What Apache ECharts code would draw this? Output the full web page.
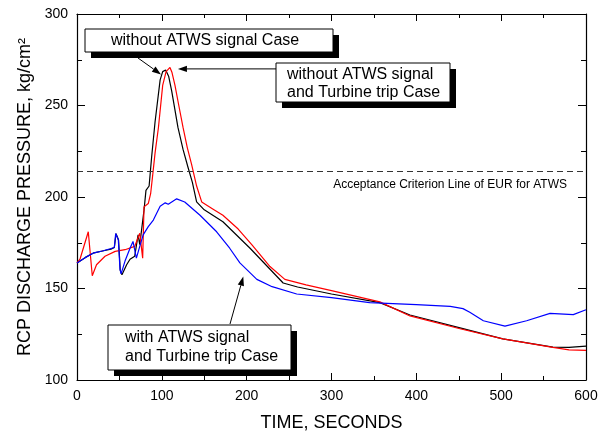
<!DOCTYPE html>
<html>
<head>
<meta charset="utf-8">
<script src="https://cdn.jsdelivr.net/npm/echarts@6/dist/echarts.min.js"></script>
<style>
html,body{margin:0;padding:0;background:#fff;}
#chart{width:605px;height:437px;}
</style>
</head>
<body>
<div id="chart"></div>
<script>
// ---- data ----
var xTicks = [0, 100, 200, 300, 400, 500, 600];
var yTicks = [100, 150, 200, 250, 300];
var acceptanceLimit = 214;

var noSignal = [ // without ATWS signal Case (black)
  [0,164],[10,167],[20,169.5],[30,170.5],[40,171.5],[44,172.4],[46,180],[47.5,181],[49,176.5],[51,160],[53,157.5],
  [58.5,163],[62.5,166],[68,167.6],[72,179.3],[74,174],[79,192.8],[81.3,203.6],[85,206],[88,222],[92,241],[98,264],
  [101,268.5],[104.5,269.4],[108,266],[111.6,258],[119,238],[125,226],[131,216],[136,208],[141,197.3],[150,193],
  [172,186.5],[204,172],[243,153],[260,150.8],[300,147],[357,142.3],[392.5,135.5],[451.5,128.5],[502,122.5],
  [561,118],[580,117.8],[600,118.5]
];
var noSignalTrip = [ // without ATWS signal and Turbine trip Case (red)
  [0,164],[3.5,166],[13.3,181],[18,157],[23,163],[33,167.6],[45,170.3],[56.6,171.2],[68,173],[74,180.2],
  [77.4,166.6],[79,194.6],[84,196.4],[86.8,201.8],[89,211],[92,224],[96,238],[101,261],[105,268.5],[109.6,270.8],[112,268],
  [115.5,261],[120,250],[125,238],[130,227],[135,218],[141,206],[147,197.3],[160,193.5],[172,190],[190,182.5],
  [206,174],[227.5,162],[245,155],[270,152],[300,148.8],[357,142.7],[392.5,135],[451.5,128],[502,122.5],
  [561,117.8],[580,116.5],[600,116.2]
];
var withSignalTrip = [ // with ATWS signal and Turbine trip Case (blue)
  [0,164],[10,167],[20,169.5],[30,170.5],[39,171.7],[44,172.4],[45.6,180],[47.5,181],[48.7,176.6],[50.7,160.5],
  [52,158],[56.6,165],[62.5,172],[66,175.7],[70,166.6],[74,173],[78,179.3],[84,183.8],[90,187.4],
  [98,195],[104,196.8],[107.6,196],[117.5,199],[127,197.3],[145,190],
  [164.6,181],[180,172],[192,164],[212,155],[230,151],[259,147],[300,145],
  [345,142.3],[400,141.2],[440,140.2],[455,139],[463,137],[479,132.4],[504.5,129.4],[530,132.4],[557.6,136.4],
  [585,135.7],[600,138.4]
];

// ---- chart ----
var FONT = '"Liberation Sans", Arial, sans-serif';
var chart = echarts.init(document.getElementById('chart'), null, {renderer:'canvas'});

function xAxisCfg(pos, labels) {
  return {
    type:'value', position:pos, min:xTicks[0], max:xTicks[xTicks.length-1], interval:100,
    axisLine:{show:true, onZero:false, lineStyle:{color:'#000', width:1.2}},
    axisTick:{show:true, inside:true, length:7, lineStyle:{color:'#000'}},
    minorTick:{show:true, splitNumber:2, length:4, lineStyle:{color:'#000'}},
    splitLine:{show:false},
    axisLabel:{show:labels, color:'#000', fontSize:14, fontFamily:FONT, margin:9},
    name: labels ? 'TIME, SECONDS' : '', nameLocation:'middle', nameGap:34,
    nameTextStyle:{color:'#000', fontSize:18, fontFamily:FONT}
  };
}
function yAxisCfg(pos, labels) {
  return {
    type:'value', position:pos, min:yTicks[0], max:yTicks[yTicks.length-1], interval:50,
    axisLine:{show:true, onZero:false, lineStyle:{color:'#000', width:1.2}},
    axisTick:{show:true, inside:true, length:8, lineStyle:{color:'#000'}},
    minorTick:{show:true, splitNumber:2, length:5, lineStyle:{color:'#000'}},
    splitLine:{show:false},
    axisLabel:{show:labels, color:'#000', fontSize:14, fontFamily:FONT, margin:9},
    name: labels ? 'RCP DISCHARGE PRESSURE, kg/cm²' : '', nameLocation:'middle', nameGap:42,
    nameTextStyle:{color:'#000', fontSize:18, fontFamily:FONT}
  };
}

function lineSeries(name, data, color) {
  return {
    name:name, type:'line', data:data, xAxisIndex:0, yAxisIndex:0,
    showSymbol:false, symbol:'none', smooth:false,
    lineStyle:{color:color, width:1.2}, silent:true
  };
}

var series = [
  lineSeries('without ATWS signal Case', noSignal, '#000000'),
  lineSeries('without ATWS signal and Turbine trip Case', noSignalTrip, '#ff0000'),
  lineSeries('with ATWS signal and Turbine trip Case', withSignalTrip, '#0000ff')
];
series[0].markLine = {
  silent:true, symbol:['none','none'],
  lineStyle:{color:'#333', type:[6,4], width:1},
  label:{show:false},
  data:[{yAxis:acceptanceLimit}]
};

chart.setOption({
  animation:false,
  backgroundColor:'#fff',
  grid:{left:77, right:19, top:14, bottom:50, containLabel:false},
  xAxis:[xAxisCfg('bottom', true), xAxisCfg('top', false)],
  yAxis:[yAxisCfg('left', true), yAxisCfg('right', false)],
  series:series
});

// ---- annotations ----
function box(x, y, w, h, lines, tx, ty, lh) {
  var els = [
    {type:'rect', shape:{x:x+6, y:y+6, width:w, height:h}, style:{fill:'#000'}},
    {type:'rect', shape:{x:x, y:y, width:w, height:h}, style:{fill:'#fff', stroke:'#000', lineWidth:1}}
  ];
  lines.forEach(function(t, i){
    els.push({type:'text', x:tx, y:ty + i*lh,
      style:{text:t, fill:'#000', font:'16px ' + FONT, textVerticalAlign:'middle', verticalAlign:'middle'}});
  });
  return els;
}
function arrow(x1, y1, x2, y2) {
  var ang = Math.atan2(y2-y1, x2-x1), L = 9, W = 3.2;
  var bx = x2 - L*Math.cos(ang), by = y2 - L*Math.sin(ang);
  var px = -Math.sin(ang)*W, py = Math.cos(ang)*W;
  return [
    {type:'line', shape:{x1:x1, y1:y1, x2:bx, y2:by}, style:{stroke:'#000', lineWidth:1}},
    {type:'polygon', shape:{points:[[x2,y2],[bx+px,by+py],[bx-px,by-py]]}, style:{fill:'#000'}}
  ];
}

var g = [];
var pLim = chart.convertToPixel({xAxisIndex:0, yAxisIndex:0}, [600, acceptanceLimit]);
g.push({type:'text', x:pLim[0]-19, y:pLim[1]+13,
  style:{text:'Acceptance Criterion Line of EUR for ATWS', fill:'#000', font:'12px ' + FONT,
         textAlign:'right', align:'right', textVerticalAlign:'middle', verticalAlign:'middle'}});

var pk1 = chart.convertToPixel({xAxisIndex:0, yAxisIndex:0}, [99, 267]);
var pk2 = chart.convertToPixel({xAxisIndex:0, yAxisIndex:0}, [119, 270]);
var pk3 = chart.convertToPixel({xAxisIndex:0, yAxisIndex:0}, [196, 156.5]);

g = g.concat(arrow(138, 58, pk1[0], pk1[1]));
g = g.concat(arrow(276, pk2[1], pk2[0], pk2[1]));
g = g.concat(arrow(230, 324, pk3[0], pk3[1]));
g = g.concat(box(85, 29, 248, 23, ['without ATWS signal Case'], 111, 41, 17));
g = g.concat(box(276, 63, 174, 39, ['without ATWS signal', 'and Turbine trip Case'], 287, 75, 17.5));
g = g.concat(box(108, 325, 183, 45, ['with ATWS signal', 'and Turbine trip Case'], 125, 338, 18.5));

chart.setOption({graphic:{elements:g}});
</script>
</body>
</html>
